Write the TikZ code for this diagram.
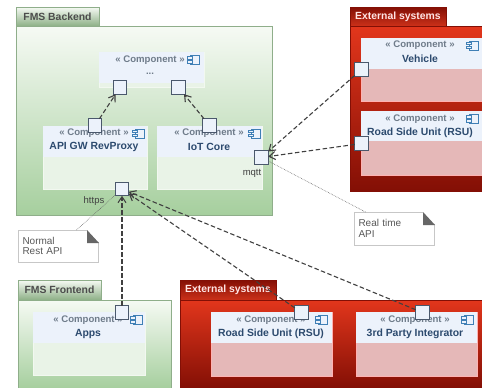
\documentclass[tikz,border=0pt]{standalone}
\usepackage{fontspec}
\setmainfont{Liberation Sans}
\usetikzlibrary{arrows.meta}
\definecolor{greentop}{HTML}{F6FAF4}
\definecolor{greenlow}{HTML}{A6CF9E}
\definecolor{greenline}{HTML}{8FAE8A}
\definecolor{redtop}{HTML}{E2361C}
\definecolor{redlow}{HTML}{830F05}
\definecolor{headfill}{HTML}{ECF2FB}
\definecolor{stereo}{HTML}{6F7C8A}
\definecolor{compname}{HTML}{2C4A6E}
\definecolor{portline}{HTML}{4A586C}
\definecolor{iconline}{HTML}{3F7FB5}
\tikzset{
  every node/.style={inner sep=0pt, outer sep=0pt},
  greenpack/.style={draw=greenline, top color=greentop, bottom color=greenlow},
  redpack/.style={draw=redlow, top color=redtop, bottom color=redlow},
  greentab/.style={draw=greenline, top color=greentop, bottom color=greenlow!85!black, text=black!70,
    font=\fontsize{10.4}{12}\selectfont\bfseries},
  redtab/.style={draw=redlow, top color=redlow, bottom color=redtop!90!black, text=red!10,
    font=\fontsize{10.4}{12}\selectfont\bfseries},
  greenbody/.style={draw=white!85!greenlow, fill=white!75!greenlow},
  redbody/.style={draw=white!70!red, fill=red!20!white!90!black},
  comphead/.style={fill=headfill, text=compname, align=center,
    font=\fontsize{10.4}{14}\selectfont\bfseries},
  stereotype/.style={text=stereo, font=\fontsize{9.6}{14}\selectfont\bfseries},
  portbox/.style={draw=portline, line width=.9pt, fill=headfill, minimum size=13.5pt},
  portlabel/.style={text=black!75, font=\fontsize{9.5}{11}\selectfont},
  notebox/.style={draw=black!22, line width=.8pt, fill=white, text=black!65, align=left,
    text width=72pt, inner sep=4pt, font=\fontsize{10}{10.5}\selectfont},
  notelink/.style={draw=black!60, densely dotted, line width=.6pt},
  dep/.style={draw=black!75, dash pattern=on 4.5pt off 2.5pt, line width=1.1pt,
    -{Straight Barb[length=6pt,width=8pt]}},
  compicon/.pic={
    \draw[iconline, line width=.8pt] (-2.5,-4.5) rectangle (6,4.5);
    \draw[iconline, line width=.8pt, fill=headfill] (-5.5,-3.2) rectangle (-1,-.8);
    \draw[iconline, line width=.8pt, fill=headfill] (-5.5,.8) rectangle (-1,3.2);
  }
}
\begin{document}
\begin{tikzpicture}[x=1pt, y=-1pt]
  \useasboundingbox (0,0) rectangle (482,388);
  \draw
    (57.5,16.5) node[greentab, minimum width=83pt, minimum height=19pt] (backendtab) {FMS Backend}
    (144.25,120.5) node[greenpack, minimum width=255.5pt, minimum height=189pt] (backend) {}
    (59.5,290) node[greentab, minimum width=83pt, minimum height=20pt] (frontendtab) {FMS Frontend}
    (94.5,344) node[greenpack, minimum width=153pt, minimum height=88pt] (frontend) {}
    (398,16.5) node[redtab, minimum width=96pt, minimum height=19pt] (exttoptab) {External systems}
    (416,108.5) node[redpack, minimum width=132pt, minimum height=165pt] (exttop) {}
    (228,290) node[redtab, minimum width=96pt, minimum height=20pt] (extlowtab) {External systems}
    (331,344) node[redpack, minimum width=302pt, minimum height=88pt] (extlow) {};
  \draw
    (151.5,69.5) node[greenbody, minimum width=105pt, minimum height=35pt] (otherbody) {}
    (95,157.5) node[greenbody, minimum width=104pt, minimum height=63pt] (apibody) {}
    (209.5,157.5) node[greenbody, minimum width=105pt, minimum height=63pt] (iotbody) {}
    (89,343.5) node[greenbody, minimum width=112pt, minimum height=63pt] (appsbody) {}
    (421.5,69.5) node[redbody, minimum width=121pt, minimum height=63pt] (vehiclebody) {}
    (421.5,143) node[redbody, minimum width=121pt, minimum height=64pt] (rsutopbody) {}
    (271.5,344) node[redbody, minimum width=121pt, minimum height=64pt] (rsulowbody) {}
    (416.5,344) node[redbody, minimum width=121pt, minimum height=64pt] (thirdbody) {};
  \draw
    (151.5,67.5) node[comphead, minimum width=105pt, minimum height=31pt] (otherhead) {}
    (95,141.5) node[comphead, minimum width=104pt, minimum height=31pt] (apihead) {}
    (209.5,141.5) node[comphead, minimum width=105pt, minimum height=31pt] (iothead) {}
    (89,327.5) node[comphead, minimum width=112pt, minimum height=31pt] (appshead) {}
    (421.5,53.5) node[comphead, minimum width=121pt, minimum height=31pt] (vehiclehead) {}
    (421.5,126) node[comphead, minimum width=121pt, minimum height=30pt] (rsutophead) {}
    (271.5,327.5) node[comphead, minimum width=121pt, minimum height=31pt] (rsulowhead) {}
    (416.5,327.5) node[comphead, minimum width=121pt, minimum height=31pt] (thirdhead) {};
  \draw
    (150,60) node[stereotype] (otherst) {« Component »}
    (150,74) node[stereotype] (othername) {...}
    (94,133.5) node[stereotype] (apist) {« Component »}
    (94,147) node[comphead, fill=none] (apiname) {API GW RevProxy}
    (209,133.5) node[stereotype] (iotst) {« Component »}
    (209,147) node[comphead, fill=none] (iotname) {IoT Core}
    (88,320) node[stereotype] (appsst) {« Component »}
    (88,333.5) node[comphead, fill=none] (appsname) {Apps}
    (420,45.5) node[stereotype] (vehiclest) {« Component »}
    (420,59) node[comphead, fill=none] (vehiclename) {Vehicle}
    (420,119) node[stereotype] (rsutopst) {« Component »}
    (420,132.5) node[comphead, fill=none] (rsutopname) {Road Side Unit (RSU)}
    (271,320) node[stereotype] (rsulowst) {« Component »}
    (271,333.5) node[comphead, fill=none] (rsulowname) {Road Side Unit (RSU)}
    (415,320) node[stereotype] (thirdst) {« Component »}
    (415,333.5) node[comphead, fill=none] (thirdname) {3rd Party Integrator};
  \pic at (193,60) {compicon};
  \pic at (138,133.5) {compicon};
  \pic at (254,133.5) {compicon};
  \pic at (136,320) {compicon};
  \pic at (472,45.5) {compicon};
  \pic at (472,119) {compicon};
  \pic at (321,320) {compicon};
  \pic at (467,320) {compicon};
  \draw
    (120,87.5) node[portbox] (otherin) {}
    (178.5,87.5) node[portbox] (otheriot) {}
    (95,125.5) node[portbox] (apiout) {}
    (209.5,125.5) node[portbox] (iotout) {}
    (122,189) node[portbox] (https) {}
    (261.5,157.5) node[portbox] (mqtt) {}
    (122,312.5) node[portbox] (appsport) {}
    (361.5,69.5) node[portbox] (vehicleport) {}
    (361.5,143.5) node[portbox] (rsutopport) {}
    (301.5,312.5) node[portbox] (rsulowport) {}
    (422.5,312.5) node[portbox] (thirdport) {};
  \draw
    (94,201) node[portlabel] (httpslabel) {https}
    (252,173.5) node[portlabel] (mqttlabel) {mqtt};
  \draw
    (58.5,246) node[notebox, minimum height=32pt] (restnote) {Normal\\Rest API}
    (394.5,228.5) node[notebox, minimum height=33pt] (realnote) {Real time\\API};
  \fill[white] (87,229.5) -- (99.5,229.5) -- (99.5,243) -- cycle;
  \fill[black!60] (87,230) -- (99,243) -- (87,243) -- cycle;
  \fill[white] (422.5,211.5) -- (435.5,211.5) -- (435.5,225) -- cycle;
  \fill[black!60] (423,212) -- (435,225) -- (423,225) -- cycle;
  \begin{scope}[dep]
    \draw (apiout) to (otherin);
    \draw (iotout) to (otheriot);
    \draw (vehicleport) to (mqtt);
    \draw (rsutopport) to (mqtt);
    \draw (appsport) to (https);
    \draw (rsulowport) to (https);
    \draw (thirdport) to (https);
  \end{scope}
  \draw[notelink] (restnote.north) ++(18,0) coordinate (restfoot) (restfoot) to (https);
  \draw[notelink] (realnote.north) ++(-29,0) coordinate (realfoot) (realfoot) to (mqtt);
\end{tikzpicture}
\end{document}
